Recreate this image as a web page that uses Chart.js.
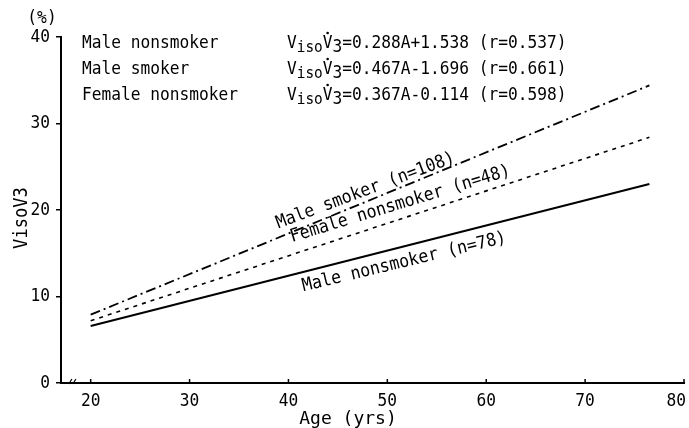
<!DOCTYPE html>
<html><head><meta charset="utf-8">
<script src="https://cdn.jsdelivr.net/npm/chart.js@4"></script>
<style>html,body{margin:0;padding:0;background:#fff}#wrap{width:689px;height:428px}</style>
</head><body><div id="wrap"><canvas id="c" width="689" height="428"></canvas></div>
<script>
// ---- data ----
const ages = [20, 76.5];
const maleNonsmoker = [6.6, 23.0];
const maleSmoker = [7.9, 34.4];
const femaleNonsmoker = [7.2, 28.4];
const xTicks = [20, 30, 40, 50, 60, 70, 80];
const yTicks = [0, 10, 20, 30, 40];
const seriesNames = ['Male nonsmoker', 'Male smoker', 'Female nonsmoker'];
const equations = ['=0.288A+1.538 (r=0.537)', '=0.467A-1.696 (r=0.661)', '=0.367A-0.114 (r=0.598)'];
const lineLabels = ['Male nonsmoker (n=78)', 'Male smoker (n=108)', 'Female nonsmoker (n=48)'];
const xTitle = 'Age (yrs)';
const yTitle = 'VisoV3';
const yUnit = '(%)';

// ---- presentation ----
const FONT = '"DejaVu Sans Mono", "Liberation Mono", monospace';
const INK = '#000';
const pts = (ys) => ages.map((a, i) => ({x: a, y: ys[i]}));

function txt(ctx, s, x, y, o = {}) {
  ctx.save();
  ctx.translate(x, y);
  if (o.rot) ctx.rotate(o.rot * Math.PI / 180);
  ctx.scale(o.sx || 0.9, 1);
  ctx.font = (o.size || 18) + 'px ' + FONT;
  ctx.fillStyle = INK;
  ctx.textAlign = o.align || 'left';
  ctx.textBaseline = o.base || 'middle';
  ctx.fillText(s, 0, 0);
  ctx.restore();
}
function tw(ctx, s, size, sx) {
  ctx.save(); ctx.font = size + 'px ' + FONT;
  const w = ctx.measureText(s).width * sx; ctx.restore(); return w;
}

const decor = {
  id: 'decor',
  afterDraw(chart) {
    const ctx = chart.ctx, xs = chart.scales.x, ys = chart.scales.y;
    const ca = chart.chartArea;
    // x ticks (inward) and labels
    ctx.save();
    ctx.strokeStyle = INK; ctx.lineWidth = 1.5;
    xTicks.forEach(v => {
      const px = xs.getPixelForValue(v);
      ctx.beginPath(); ctx.moveTo(px, ca.bottom); ctx.lineTo(px, ca.bottom - 4); ctx.stroke();
      const s = String(v), w = tw(ctx, s, 18, 0.9);
      let cx = px; if (cx + w / 2 > chart.width - 3) cx = chart.width - 3 - w / 2;
      txt(ctx, s, cx, ca.bottom + 18, {align: 'center'});
    });
    // axis break near origin
    const bx = xs.getPixelForValue(18.2);
    ctx.lineWidth = 1.2;
    ctx.beginPath(); ctx.moveTo(bx - 4, ca.bottom + 1); ctx.lineTo(bx - 1, ca.bottom - 4);
    ctx.moveTo(bx, ca.bottom + 1); ctx.lineTo(bx + 3, ca.bottom - 4); ctx.stroke();
    ctx.restore();
    // y tick labels
    yTicks.forEach(v => {
      txt(ctx, String(v), ca.left - 11, ys.getPixelForValue(v), {align: 'right'});
    });
    txt(ctx, yUnit, ca.left - 19, ca.top - 19, {align: 'center'});
    txt(ctx, yTitle, 22, 218, {align: 'center', rot: -90, size: 19});
    txt(ctx, xTitle, 348, 419, {align: 'center', sx: 1.0});
    // legend block (equations)
    const rows = [43, 69, 95];
    seriesNames.forEach((n, i) => {
      const y = rows[i];
      txt(ctx, n, 82, y);
      let x = 287;
      const wV = tw(ctx, 'V', 18, 0.9);
      txt(ctx, 'V', x, y); x += wV;
      txt(ctx, 'iso', x, y + 5, {size: 16}); x += tw(ctx, 'iso', 16, 0.9);
      txt(ctx, 'V', x, y);
      ctx.save(); ctx.fillStyle = INK; ctx.beginPath();
      ctx.arc(x + wV / 2, y - 10, 1.3, 0, Math.PI * 2); ctx.fill(); ctx.restore();
      x += wV;
      txt(ctx, '3', x, y + 4); x += tw(ctx, '3', 18, 0.9);
      txt(ctx, equations[i], x, y);
    });
    // labels along the lines
    const place = [
      {series: maleNonsmoker, at: 51.7, dy: 16, rot: -13.5, label: lineLabels[0]},
      {series: maleSmoker, at: 47.8, dy: -11, rot: -20.5, label: lineLabels[1]},
      {series: femaleNonsmoker, at: 51.3, dy: -15, rot: -17, label: lineLabels[2]},
    ];
    place.forEach(p => {
      const s = p.series;
      const t = (p.at - ages[0]) / (ages[1] - ages[0]);
      const yv = s[0] + (s[1] - s[0]) * t;
      const px = xs.getPixelForValue(p.at), py = ys.getPixelForValue(yv) + p.dy;
      txt(ctx, p.label, px, py, {align: 'center', rot: p.rot, sx: 0.92});
    });
  }
};

new Chart(document.getElementById('c'), {
  type: 'scatter',
  data: {
    datasets: [
      {label: seriesNames[0], data: pts(maleNonsmoker), showLine: true, borderColor: INK, borderWidth: 2, pointRadius: 0},
      {label: seriesNames[1], data: pts(maleSmoker), showLine: true, borderColor: INK, borderWidth: 1.8, borderDash: [10, 4, 2, 4], pointRadius: 0},
      {label: seriesNames[2], data: pts(femaleNonsmoker), showLine: true, borderColor: INK, borderWidth: 1.6, borderDash: [4, 5], pointRadius: 0},
    ]
  },
  options: {
    responsive: false, animation: false, devicePixelRatio: 1,
    layout: {padding: {top: 37, right: 5, left: 0, bottom: 0}},
    plugins: {legend: {display: false}, tooltip: {enabled: false}},
    scales: {
      x: {
        type: 'linear', min: 17, max: 80,
        afterBuildTicks: s => { s.ticks = xTicks.map(v => ({value: v})); },
        afterFit: s => { s.height = 45; s.paddingLeft = 0; s.paddingRight = 0; },
        ticks: {display: false},
        grid: {display: false},
        border: {display: true, color: INK, width: 2}
      },
      y: {
        min: 0, max: 40,
        afterBuildTicks: s => { s.ticks = yTicks.map(v => ({value: v})); },
        afterFit: s => { s.width = 61; s.paddingTop = 0; s.paddingBottom = 0; },
        ticks: {display: false},
        grid: {drawOnChartArea: false, drawTicks: true, tickLength: 5, color: INK, lineWidth: 1.5},
        border: {display: true, color: INK, width: 2}
      }
    }
  },
  plugins: [decor]
});
</script></body></html>
